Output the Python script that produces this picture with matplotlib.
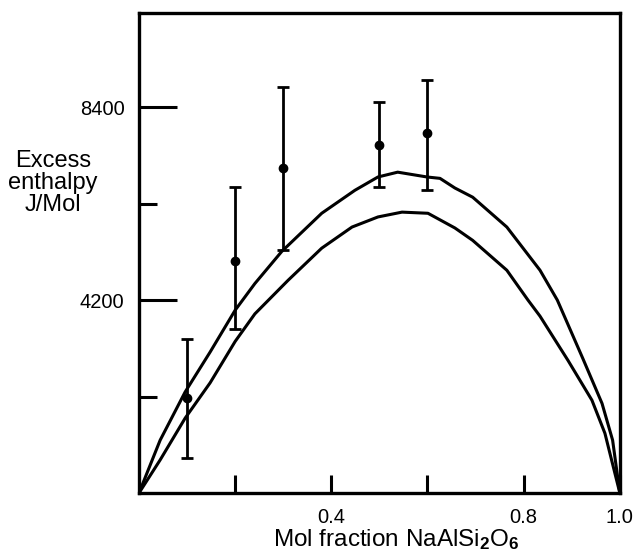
import matplotlib
matplotlib.use('Agg')
import matplotlib.pyplot as plt

plt.rcParams['font.family'] = ['Liberation Sans', 'DejaVu Sans']
plt.rcParams['mathtext.fontset'] = 'custom'
plt.rcParams['mathtext.rm'] = 'Liberation Sans'
plt.rcParams['mathtext.it'] = 'Liberation Sans'
plt.rcParams['mathtext.bf'] = 'Liberation Sans:bold'

# measured points with error bars
x_pts = [0.1, 0.2, 0.3, 0.5, 0.6]
y_pts = [2070, 5050, 7080, 7570, 7830]
err_lo = [1300, 1480, 1790, 910, 1240]
err_hi = [1280, 1610, 1760, 940, 1160]

# upper and lower model curves
x_up = [0.0, 0.044, 0.096, 0.148, 0.2, 0.241, 0.297, 0.38, 0.449, 0.497,
        0.538, 0.599, 0.626, 0.657, 0.694, 0.765, 0.834, 0.87, 0.923, 0.963,
        0.985, 1.0]
y_up = [0, 1150, 2200, 3070, 3980, 4560, 5260, 6090, 6590, 6880,
        6985, 6880, 6850, 6640, 6440, 5790, 4850, 4200, 2930, 1950,
        1150, 0]
x_lo = [0.0, 0.044, 0.096, 0.148, 0.2, 0.241, 0.31, 0.38, 0.443, 0.497,
        0.547, 0.601, 0.657, 0.694, 0.765, 0.809, 0.834, 0.892, 0.942, 0.969,
        1.0]
y_lo = [0, 720, 1630, 2400, 3300, 3900, 4630, 5330, 5790, 6010,
        6115, 6090, 5770, 5500, 4850, 4200, 3850, 2890, 2020, 1300,
        0]

fig = plt.figure(figsize=(6.39, 5.60), dpi=100)
ax = fig.add_axes([0.2175, 0.1196, 0.7525, 0.8572])

ax.plot(x_up, y_up, color='black', linewidth=2.2, solid_joinstyle='round')
ax.plot(x_lo, y_lo, color='black', linewidth=2.2, solid_joinstyle='round')
ax.errorbar(x_pts, y_pts, yerr=[err_lo, err_hi], fmt='o', color='black',
            markersize=6, elinewidth=2, capsize=4.5, capthick=2)

ax.set_xlim(0, 1.0)
ax.set_ylim(0, 10450)

for s in ax.spines.values():
    s.set_linewidth(2.4)

ax.set_xticks([0.2, 0.4, 0.6, 0.8, 1.0])
ax.set_xticklabels(['', '0.4', '', '0.8', '1.0'])
ax.tick_params(axis='x', direction='in', length=13, width=2.2, pad=11,
               labelsize=14.5)
ax.set_yticks([4200, 8400])
ax.set_yticks([2100, 6300], minor=True)
ax.tick_params(axis='y', which='major', direction='in', length=27, width=2.2,
               pad=10.5, labelsize=14.5)
ax.tick_params(axis='y', which='minor', direction='in', length=13, width=2.2)

fig.text(0.62, 0.024, 'Mol fraction NaAlSi$_\\mathbf{2}$O$_\\mathbf{6}$',
         fontsize=17.5, ha='center', va='baseline')
fig.text(0.083, 0.673, 'Excess\nenthalpy\nJ/Mol', ha='center', va='center',
         fontsize=17, linespacing=1.0)

plt.savefig('out.png', dpi=100)
